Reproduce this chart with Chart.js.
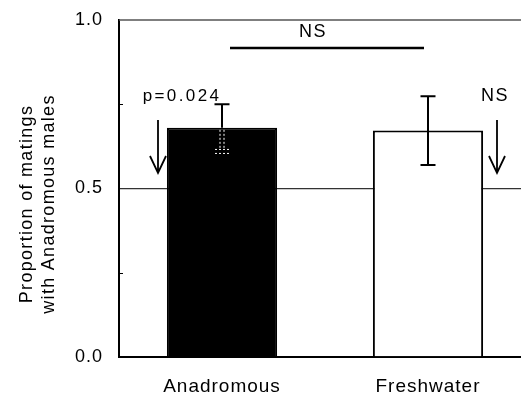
<!DOCTYPE html>
<html>
<head>
<meta charset="utf-8">
<script src="https://cdn.jsdelivr.net/npm/chart.js@4"></script>
<style>
  html, body { margin: 0; padding: 0; background: #fff; overflow: hidden; }
  #wrap { width: 545px; height: 399px; }
</style>
</head>
<body>
<div id="wrap"><canvas id="chart" width="545" height="399"></canvas></div>
<script>
// Data
const categories = ['Anadromous', 'Freshwater'];
const proportions = [0.68, 0.672];
const errLow = [0.61, 0.57];
const errHigh = [0.75, 0.774];
const yTickLabels = [0, 0.5, 1];
const yMinorTicks = [0.25, 0.75];
const barColors = ['#000000', '#ffffff'];

const FONT = '"Liberation Sans", Arial, Helvetica, sans-serif';

// Letter spacing for the scanned-look text
const spacingPlugin = {
  id: 'spacing',
  beforeDraw(chart) {
    chart.ctx.letterSpacing = '1px';
  }
};

// Frame top, y title, error bars and the significance notes
const notesPlugin = {
  id: 'notes',
  afterDatasetsDraw(chart) {
    const ctx = chart.ctx;
    const xs = chart.scales.x;
    const ys = chart.scales.y;
    ctx.save();

    // top frame line at 1.0
    ctx.strokeStyle = '#555';
    ctx.lineWidth = 1.5;
    ctx.beginPath();
    ctx.moveTo(xs.left, ys.getPixelForValue(1));
    ctx.lineTo(xs.right, ys.getPixelForValue(1));
    ctx.stroke();

    // small inward ticks on the y axis
    ctx.strokeStyle = '#000';
    ctx.lineWidth = 1;
    ctx.beginPath();
    yMinorTicks.forEach((t) => {
      const y = Math.round(ys.getPixelForValue(t)) + 0.5;
      ctx.moveTo(xs.left, y); ctx.lineTo(xs.left + 4, y);
    });
    ctx.stroke();

    // error bars
    proportions.forEach((v, i) => {
      const x = xs.getPixelForValue(i);
      const yHi = ys.getPixelForValue(errHigh[i]);
      const yLo = ys.getPixelForValue(errLow[i]);
      const yV = ys.getPixelForValue(v);
      ctx.lineWidth = 2;
      ctx.strokeStyle = '#000';
      ctx.setLineDash([]);
      ctx.beginPath();
      if (barColors[i] === '#000000') {
        ctx.moveTo(x, yHi); ctx.lineTo(x, yV);
        ctx.moveTo(x - 7.5, yHi); ctx.lineTo(x + 7.5, yHi);
        ctx.stroke();
        // the part inside the dark bar shows as a white dotted outline
        ctx.strokeStyle = '#fff';
        ctx.lineWidth = 1;
        ctx.setLineDash([2, 2]);
        ctx.beginPath();
        ctx.moveTo(x - 2, yV + 2); ctx.lineTo(x - 2, yLo - 2);
        ctx.moveTo(x + 2, yV + 2); ctx.lineTo(x + 2, yLo - 2);
        ctx.moveTo(x - 7, yLo - 2); ctx.lineTo(x + 7, yLo - 2);
        ctx.moveTo(x - 7, yLo + 2); ctx.lineTo(x + 7, yLo + 2);
        ctx.stroke();
        ctx.setLineDash([]);
      } else {
        ctx.moveTo(x, yHi); ctx.lineTo(x, yLo);
        ctx.moveTo(x - 7.5, yHi); ctx.lineTo(x + 7.5, yHi);
        ctx.moveTo(x - 7.5, yLo); ctx.lineTo(x + 7.5, yLo);
        ctx.stroke();
      }
    });

    ctx.fillStyle = '#000';
    ctx.strokeStyle = '#000';
    ctx.textAlign = 'center';
    ctx.textBaseline = 'middle';
    ctx.letterSpacing = '1.5px';

    // NS between groups
    const x0 = xs.getPixelForValue(0);
    const x1 = xs.getPixelForValue(1);
    ctx.font = '18px ' + FONT;
    ctx.fillText('NS', x0 + 91, ys.getPixelForValue(0.964));
    ctx.lineWidth = 2.5;
    ctx.beginPath();
    ctx.moveTo(x0 + 8, ys.getPixelForValue(0.917));
    ctx.lineTo(x1 - 4, ys.getPixelForValue(0.917));
    ctx.stroke();

    // p value and arrow on the left, NS and arrow on the right
    ctx.font = '17px ' + FONT;
    ctx.letterSpacing = '2.4px';
    ctx.fillText('p=0.024', x0 - 40, ys.getPixelForValue(0.775));
    ctx.letterSpacing = '1.5px';
    ctx.font = '18px ' + FONT;
    ctx.fillText('NS', x1 + 67, ys.getPixelForValue(0.775));

    const arrow = (x) => {
      const yTop = ys.getPixelForValue(0.703);
      const yTip = ys.getPixelForValue(0.546);
      ctx.lineWidth = 1.8;
      ctx.beginPath();
      ctx.moveTo(x, yTop); ctx.lineTo(x, yTip);
      ctx.moveTo(x - 8, yTip - 17); ctx.lineTo(x, yTip); ctx.lineTo(x + 8, yTip - 17);
      ctx.stroke();
    };
    arrow(x0 - 64);
    arrow(x1 + 69);

    // y axis title (two lines, rotated)
    ctx.font = '18px ' + FONT;
    ctx.letterSpacing = '1.3px';
    ctx.translate(0, 204);
    ctx.rotate(-Math.PI / 2);
    ctx.fillText('Proportion of matings', 0, 27);
    ctx.fillText('with Anadromous males', 0, 49);

    ctx.restore();
  }
};

new Chart(document.getElementById('chart'), {
  type: 'bar',
  data: {
    labels: categories,
    datasets: [{
      data: proportions,
      backgroundColor: barColors,
      borderColor: '#000',
      borderWidth: 2,
      categoryPercentage: 1,
      barPercentage: 0.535
    }]
  },
  options: {
    responsive: false,
    animation: false,
    devicePixelRatio: 1,
    layout: { padding: { left: 0, top: 20, right: 14, bottom: 0 } },
    plugins: { legend: { display: false }, tooltip: { enabled: false } },
    scales: {
      x: {
        grid: { display: false },
        border: { display: true, color: '#000', width: 2 },
        ticks: { color: '#000', font: { family: FONT, size: 19 }, padding: 10 },
        afterFit(scale) { scale.height = 42; }
      },
      y: {
        min: 0,
        max: 1,
        border: { display: true, color: '#000', width: 2 },
        grid: {
          drawTicks: false,
          color: (c) => (c.tick && c.tick.value === 0.5 ? '#333' : 'rgba(0,0,0,0)'),
          lineWidth: 1.3
        },
        ticks: {
          stepSize: 0.25,
          color: '#000',
          padding: 16,
          font: { family: FONT, size: 18 },
          callback: (v) => (yTickLabels.includes(v) ? v.toFixed(1) : '')
        },
        afterFit(scale) {
          scale.width = 119;
          scale.paddingTop = 0;
          scale.paddingBottom = 0;
        }
      }
    }
  },
  plugins: [spacingPlugin, notesPlugin]
});
</script>
</body>
</html>
